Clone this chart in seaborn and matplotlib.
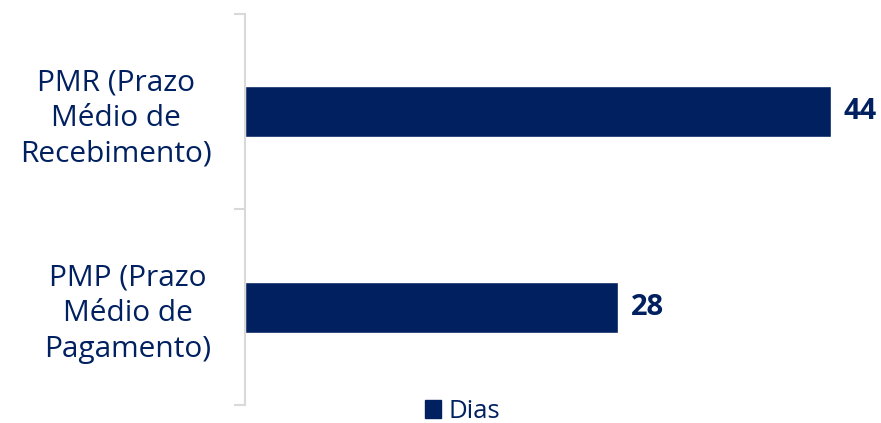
import pandas as pd
import matplotlib.pyplot as plt
import seaborn as sns
from matplotlib.patches import Patch

categorias = ["PMR (Prazo\nMédio de\nRecebimento)", "PMP (Prazo\nMédio de\nPagamento)"]
dias = [44, 28]
serie = "Dias"

azul = "#002060"
df = pd.DataFrame({"cat": categorias, "dias": dias})

sns.set_style("white")
plt.rcParams["font.family"] = ["Open Sans", "DejaVu Sans"]

fig = plt.figure(figsize=(8.81, 4.23), dpi=100)
ax = fig.add_axes([0.278, 0.043, 0.71, 0.924])
sns.barplot(data=df, x="dias", y="cat", color=azul, width=0.26, saturation=1, ax=ax)

ax.set_xlim(0, 47.0)
ax.set_ylim(1.5, -0.5)
ax.set_xlabel("")
ax.set_ylabel("")
ax.set_xticks([])
ax.set_yticks([-0.5, 0.5, 1.5], minor=False)
ax.set_yticks([0, 1], minor=True)
ax.set_yticklabels([])
ax.set_yticklabels(categorias, minor=True, fontsize=21.5, color=azul,
                   multialignment="center", linespacing=1.3)
ax.tick_params(axis="y", which="major", left=True, length=8, color="#d9d9d9", width=1.5)
ax.tick_params(axis="y", which="minor", left=True, length=0, pad=24)
for s in ["top", "right", "bottom"]:
    ax.spines[s].set_visible(False)
ax.spines["left"].set_color("#d9d9d9")
ax.spines["left"].set_linewidth(1.5)

for i, v in enumerate(dias):
    ax.text(v + 1.0, i, str(v), va="center", ha="left", fontsize=21,
            fontweight="bold", color=azul)

fig.legend(handles=[Patch(color=azul, label=serie)], loc="center",
           bbox_to_anchor=(0.525, 0.027), frameon=False, fontsize=18.5,
           handlelength=0.65, handleheight=0.65, handletextpad=0.3,
           labelcolor=azul, borderpad=0)

fig.savefig("out.png", dpi=100)
